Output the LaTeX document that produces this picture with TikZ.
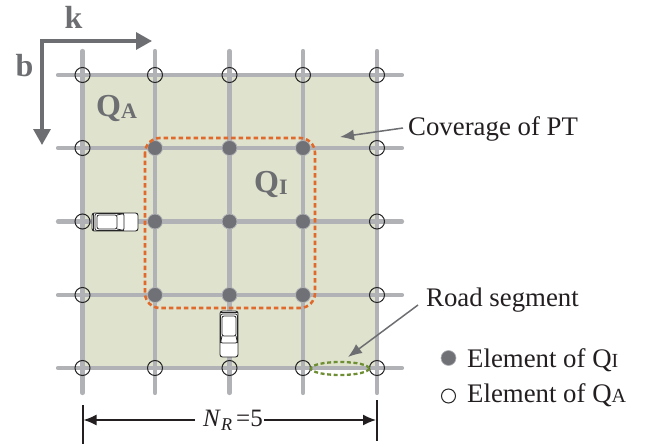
\documentclass[tikz,border=0pt]{standalone}
\usepackage{fontspec}
\setmainfont{Liberation Serif}
\usetikzlibrary{arrows.meta}
\definecolor{roadc}{HTML}{B1B2B6}
\definecolor{areac}{HTML}{DFE2CD}
\definecolor{axisc}{HTML}{6D6E71}
\definecolor{dotc}{HTML}{707176}
\definecolor{orangec}{HTML}{E06A2B}
\definecolor{greenc}{HTML}{6E8E34}
\definecolor{textc}{HTML}{231F20}
\tikzset{
  x=1pt,y=-1pt,
  road/.style={draw=roadc,line width=4.2pt,line cap=round},
  qa/.style={circle,draw=black!85,line width=1pt,minimum size=15pt,inner sep=0pt},
  qi/.style={circle,fill=dotc,draw=roadc,line width=0.8pt,minimum size=15pt,inner sep=0pt},
  axisarrow/.style={draw=axisc,line width=3.2pt,-{Triangle[length=16pt,width=17pt]}},
  thinarrow/.style={draw=axisc,line width=1.5pt,-{Latex[length=14pt,width=11pt]}},
  dimarrow/.style={draw=textc,line width=1.4pt,-{Latex[length=13pt,width=11pt]}},
  dimtick/.style={draw=textc,line width=2pt},
  lab/.style={text=textc,font=\fontsize{26.8}{30}\selectfont,inner sep=0pt,anchor=west},
  biglab/.style={text=axisc,font=\fontsize{32}{34}\bfseries\selectfont,inner sep=0pt},
  carbody/.style={draw=black!85,fill=white,line width=0.9pt},
  carline/.style={draw=black!85,line width=0.8pt},
  car/.pic={
    \path[carbody,rounded corners=2.5pt] (-23,-9) rectangle (23,9);
    \path[carline,rounded corners=2pt] (-20,-8.5) rectangle (9,8.5);
    \path[carline,rounded corners=2pt] (-18,-7) rectangle (2,7);
    \path[carline] (-21.5,-9) -- (-21.5,9) (2,-7) -- (9,-8.5) (2,7) -- (9,8.5);
  }
}
\begin{document}
\begin{tikzpicture}
\useasboundingbox (0,0) rectangle (651,447);
\fill[areac] (82.5,75) rectangle (377,368);
\foreach \y in {75,148,221.5,295,368}
  \draw[road] (58,\y) -- (402,\y);
\foreach \x in {82.5,155,229.5,303,377}
  \draw[road] (\x,51) -- (\x,393);
\foreach \i/\x/\y in {a/82.5/75,b/155/75,c/229.5/75,d/303/75,e/377/75,
    f/82.5/148,g/377/148,h/82.5/221.5,j/377/221.5,l/82.5/295,m/377/295,
    n/82.5/368,o/155/368,p/229.5/368,q/303/368,r/377/368}
  \node[qa] (A\i) at (\x,\y) {};
\foreach \i/\x/\y in {a/155/148,b/229.5/148,c/303/148,d/155/221.5,e/229.5/221.5,
    f/303/221.5,g/155/295,h/229.5/295,j/303/295}
  \node[qi] (I\i) at (\x,\y) {};
\draw[orangec,line width=2.6pt,dash pattern=on 4.5pt off 3pt,rounded corners=15pt] (145,138) rectangle (315,308);
\draw[greenc,line width=2.3pt,dash pattern=on 4pt off 2.6pt] (340,368.5) ellipse [x radius=29,y radius=6.5];
\pic at (115,222) {car};
\pic[rotate=-90] at (229,334) {car};
% axes
\coordinate (org) at (42,41);
\coordinate (kend) at (152,41);
\coordinate (bend) at (42,145);
\draw[axisarrow] (40.4,41) -- (kend);
\draw[axisarrow] (org) -- (bend);
\node[biglab] (klab) at (73.5,17) {k};
\node[biglab] (blab) at (24.5,66) {b};
\node[biglab,anchor=west] (qalab) at (96,108) {Q\raisebox{-2pt}{\fontsize{22}{24}\bfseries\selectfont A}};
\node[biglab,anchor=west] (qilab) at (254,184) {Q\raisebox{-2pt}{\fontsize{22}{24}\bfseries\selectfont I}};
% labels
\node[lab] (cov) at (408,129) {Coverage of PT};
\coordinate (covpt) at (340,137);
\coordinate (covs) at (403,128);
\draw[thinarrow] (covs) -- (covpt);
\node[lab] (seg) at (426,300) {Road segment};
\coordinate (segs) at (418,305);
\coordinate (segpt) at (348,357);
\draw[thinarrow] (segs) -- (segpt);
\node[circle,fill=dotc,draw=roadc,line width=0.6pt,minimum size=15pt,inner sep=0pt] (legi) at (448.5,358) {};
\node[circle,fill=white,draw=black!85,line width=1pt,minimum size=14pt,inner sep=0pt] (lega) at (448.5,396) {};
\node[lab] (legit) at (467,360) {Element of Q{\fontsize{20}{22}\selectfont I}};
\node[lab] (legat) at (467,395) {Element of Q{\fontsize{20}{22}\selectfont A}};
% dimension
\coordinate (t1a) at (82.5,405);
\coordinate (t1b) at (82.5,444);
\coordinate (t2a) at (377,400);
\coordinate (t2b) at (377,441);
\draw[dimtick] (t1a) -- (t1b);
\draw[dimtick] (t2a) -- (t2b);
\coordinate (d1) at (83.5,420);
\coordinate (d2) at (376,420);
\node[text=textc,font=\fontsize{25}{28}\selectfont,inner sep=0pt] (nr) at (233,420) {\textit{N}\raisebox{-4pt}{\fontsize{18}{20}\itshape\selectfont R}\,=5};
\coordinate (g1) at (195,420);
\coordinate (g2) at (264,420);
\draw[dimarrow] (g1) -- (d1);
\draw[dimarrow] (g2) -- (d2);
\end{tikzpicture}
\end{document}
